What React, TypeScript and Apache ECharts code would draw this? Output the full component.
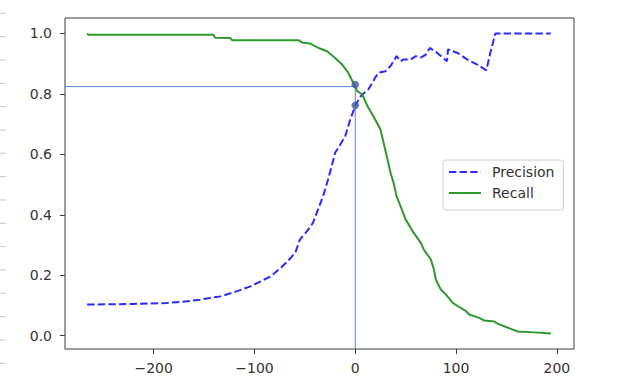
import React, { useEffect, useRef } from "react";
import * as echarts from "echarts";

const precisionX = [-266, -220, -187, -167, -154, -144, -134, -121, -104, -94, -84, -74, -64, -59, -55, -48, -42, -37, -32, -27, -23, -20, -15, -10, -5, 0, 4, 7, 13, 17, 20, 23, 30, 35, 41, 45, 48, 55, 60, 65, 70, 74, 81, 89, 91, 92, 101, 111, 121, 130, 134, 139, 194];
const precisionY = [0.103, 0.105, 0.108, 0.114, 0.119, 0.125, 0.130, 0.143, 0.163, 0.180, 0.196, 0.224, 0.257, 0.279, 0.318, 0.345, 0.373, 0.417, 0.461, 0.517, 0.566, 0.605, 0.632, 0.660, 0.715, 0.760, 0.785, 0.798, 0.815, 0.837, 0.855, 0.870, 0.875, 0.892, 0.925, 0.908, 0.914, 0.914, 0.925, 0.920, 0.930, 0.952, 0.936, 0.914, 0.908, 0.947, 0.936, 0.914, 0.897, 0.878, 0.936, 1.0, 1.0];

const recallX = [-266, -265, -200, -141, -139, -124, -122, -56, -52, -45, -40, -35, -28, -20, -13, -7, -2, 2, 7, 12, 18, 25, 28, 32, 35, 38, 41, 45, 50, 58, 65, 68, 75, 78, 80, 85, 90, 97, 103, 110, 113, 123, 128, 138, 141, 151, 161, 178, 194];
const recallY = [1.0, 0.996, 0.996, 0.996, 0.986, 0.985, 0.977, 0.977, 0.969, 0.967, 0.958, 0.950, 0.941, 0.919, 0.897, 0.870, 0.837, 0.809, 0.798, 0.760, 0.726, 0.682, 0.640, 0.583, 0.539, 0.505, 0.461, 0.428, 0.384, 0.340, 0.307, 0.285, 0.252, 0.219, 0.185, 0.152, 0.136, 0.108, 0.095, 0.081, 0.070, 0.059, 0.050, 0.047, 0.040, 0.027, 0.014, 0.011, 0.007];

const xTicks = [-200, -100, 0, 100, 200];
const yTicks = [0, 0.2, 0.4, 0.6, 0.8, 1.0];

const thresholdX = 0;
const refLevel = 0.824;
const markerY = [0.831, 0.762];

const X_MIN = -288;
const X_MAX = 217;
const Y_MIN = -0.044;
const Y_MAX = 1.051;

const FONT = "DejaVu Sans";

export default function App() {
  const ref = useRef<HTMLDivElement>(null);
  useEffect(() => {
    if (!ref.current) return;
    const chart = echarts.init(ref.current, undefined, { renderer: "svg" });
    const fmtX = (v: number) => (v < 0 ? "\u2212" + Math.abs(v) : String(v));
    const dashes: any[] = [];
    for (let k = 0; k < 16; k++) {
      const y = 13.3 + 23.33 * k;
      dashes.push({
        type: "line",
        shape: { x1: 0, y1: y, x2: 6, y2: y },
        style: { stroke: "#c8c8c8", lineWidth: 1 },
        silent: true,
      });
    }
    chart.setOption({
      animation: false,
      backgroundColor: "#ffffff",
      textStyle: { fontFamily: FONT },
      grid: {
        left: 65,
        right: 50,
        top: 18,
        bottom: 38,
        show: true,
        borderColor: "#3a3a3a",
        borderWidth: 1,
        backgroundColor: "transparent",
      },
      graphic: dashes,
      legend: {
        data: ["Precision", "Recall"],
        orient: "vertical",
        left: 443,
        top: 160,
        padding: [4, 9, 9, 5],
        itemWidth: 32,
        itemHeight: 14,
        itemGap: 5,
        itemStyle: { opacity: 0 },
        backgroundColor: "#ffffff",
        borderColor: "#d0d0d0",
        borderWidth: 1,
        borderRadius: 3,
        textStyle: {
          fontFamily: FONT,
          fontSize: 14,
          lineHeight: 16,
          color: "#333333",
          padding: [0, 0, 0, 6],
        },
      },
      xAxis: {
        type: "value",
        min: X_MIN,
        max: X_MAX,
        axisLine: { show: false, onZero: false },
        splitLine: { show: false },
        axisTick: {
          show: true,
          inside: false,
          length: 5,
          customValues: xTicks,
          lineStyle: { color: "#3a3a3a" },
        },
        axisLabel: {
          customValues: xTicks,
          formatter: fmtX,
          margin: 12,
          fontFamily: FONT,
          fontSize: 14,
          color: "#333333",
        },
      },
      yAxis: {
        type: "value",
        min: Y_MIN,
        max: Y_MAX,
        axisLine: { show: false, onZero: false },
        splitLine: { show: false },
        axisTick: {
          show: true,
          inside: false,
          length: 5,
          customValues: yTicks,
          lineStyle: { color: "#3a3a3a" },
        },
        axisLabel: {
          customValues: yTicks,
          formatter: (v: number) => v.toFixed(1),
          margin: 13,
          fontFamily: FONT,
          fontSize: 14,
          color: "#333333",
        },
      },
      series: [
        {
          name: "ref-h",
          type: "line",
          data: [
            [X_MIN, refLevel],
            [thresholdX, refLevel],
          ],
          symbol: "none",
          lineStyle: { color: "#5a80d8", width: 1 },
          silent: true,
        },
        {
          name: "ref-v",
          type: "line",
          data: [
            [thresholdX, Y_MIN],
            [thresholdX, refLevel],
          ],
          symbol: "none",
          lineStyle: { color: "#5a80d8", width: 1 },
          silent: true,
        },
        {
          name: "Precision",
          type: "line",
          data: precisionX.map((x, i) => [x, precisionY[i]]),
          symbol: "none",
          color: "#2b2bff",
          lineStyle: { color: "#2b2bff", width: 2, type: [7.4, 3.2] },
        },
        {
          name: "Recall",
          type: "line",
          data: recallX.map((x, i) => [x, recallY[i]]),
          symbol: "none",
          color: "#2e9a2e",
          lineStyle: { color: "#2e9a2e", width: 2 },
        },
        {
          name: "markers",
          type: "scatter",
          data: markerY.map((y) => [thresholdX, y]),
          symbolSize: 7,
          itemStyle: { color: "#3d5fa6", borderColor: "#2c4680", borderWidth: 0.5 },
          silent: true,
          z: 5,
        },
      ],
    });
    return () => chart.dispose();
  }, []);
  return (
    <div
      ref={ref}
      style={{ position: "fixed", left: 0, top: 0, width: 624, height: 387 }}
    />
  );
}
